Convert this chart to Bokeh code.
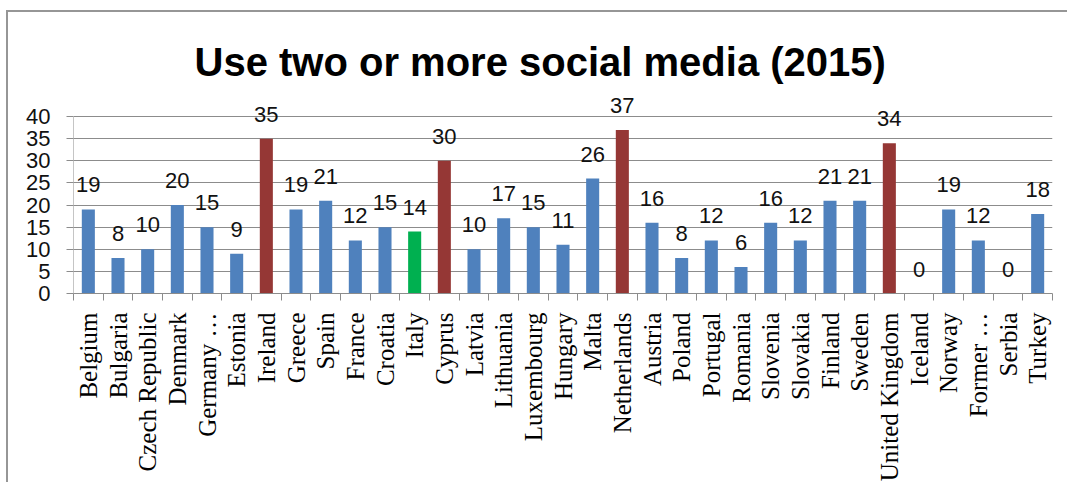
from math import pi
from bokeh.plotting import figure
from bokeh.models import ColumnDataSource, FixedTicker, LabelSet, Range1d
from bokeh.core.properties import value
from bokeh.embed import file_html
from bokeh.resources import INLINE

countries = ["Belgium", "Bulgaria", "Czech Republic", "Denmark", "Germany …", "Estonia",
             "Ireland", "Greece", "Spain", "France", "Croatia", "Italy", "Cyprus", "Latvia",
             "Lithuania", "Luxembourg", "Hungary", "Malta", "Netherlands", "Austria", "Poland",
             "Portugal", "Romania", "Slovenia", "Slovakia", "Finland", "Sweden",
             "United Kingdom", "Iceland", "Norway", "Former …", "Serbia", "Turkey"]
values = [19, 8, 10, 20, 15, 9, 35, 19, 21, 12, 15, 14, 30, 10, 17, 15, 11, 26, 37, 16, 8,
          12, 6, 16, 12, 21, 21, 34, 0, 19, 12, 0, 18]
y_ticks = [0, 5, 10, 15, 20, 25, 30, 35, 40]
red_group = ["Ireland", "Cyprus", "Netherlands", "United Kingdom"]
green_group = ["Italy"]

BLUE, RED, GREEN = "#4F81BD", "#953735", "#00B050"
GRID = "#8c8c8c"

n = len(countries)
xs = [i + 0.5 for i in range(n)]
colors = [RED if c in red_group else GREEN if c in green_group else BLUE for c in countries]
src = ColumnDataSource(dict(x=xs, v=values, lbl=[str(v) for v in values], color=colors))

p = figure(width=1061, height=472, output_backend="svg", toolbar_location=None,
           x_range=Range1d(0, n), y_range=Range1d(0, 45),
           min_border_left=65, min_border_right=17, min_border_top=82, min_border_bottom=183)
p.styles = {"margin-left": "6px", "margin-top": "10px",
            "border-top": "2px solid #969696", "border-left": "2px solid #969696"}

p.title.text = "Use two or more social media (2015)"
p.title.text_font = "Liberation Sans"
p.title.text_font_size = "40px"
p.title.text_font_style = "bold"
p.title.text_color = "#000000"
p.title.align = "left"
p.title.offset = 121
p.title.standoff = 22

p.vbar(x="x", top="v", width=0.44, bottom=0, color="color", line_color=None, source=src)

# y axis line only over the tick span (0..40)
p.segment(x0=[0], y0=[y_ticks[0]], x1=[0], y1=[y_ticks[-1]], line_color=GRID, line_width=1)

labels = LabelSet(x="x", y="v", text="lbl", source=src, y_offset=17,
                  text_align="center", text_baseline="alphabetic",
                  text_font=value("Liberation Sans"), text_font_size="22px", text_color="#111111")
p.add_layout(labels)

p.outline_line_color = None
p.xgrid.grid_line_color = None
p.ygrid.ticker = FixedTicker(ticks=y_ticks)
p.ygrid.grid_line_color = GRID

ya = p.yaxis[0]
ya.ticker = FixedTicker(ticks=y_ticks)
ya.axis_line_color = None
ya.major_tick_line_color = GRID
ya.major_tick_out = 7
ya.major_tick_in = 0
ya.minor_tick_line_color = None
ya.major_label_standoff = 16
ya.major_label_text_font = "Liberation Sans"
ya.major_label_text_font_size = "22px"
ya.major_label_text_color = "#111111"

xa = p.xaxis[0]
xa.ticker = FixedTicker(ticks=xs, minor_ticks=list(range(n + 1)))
xa.major_label_overrides = {x: c for x, c in zip(xs, countries)}
xa.axis_line_color = GRID
xa.major_tick_line_color = None
xa.major_tick_out = 0
xa.major_tick_in = 0
xa.minor_tick_line_color = GRID
xa.minor_tick_out = 7
xa.minor_tick_in = 0
xa.major_label_orientation = pi / 2
xa.major_label_standoff = 12
xa.major_label_text_font = "Liberation Serif"
xa.major_label_text_font_size = "25px"
xa.major_label_text_color = "#000000"

open("out.html", "w").write(file_html(p, INLINE))
